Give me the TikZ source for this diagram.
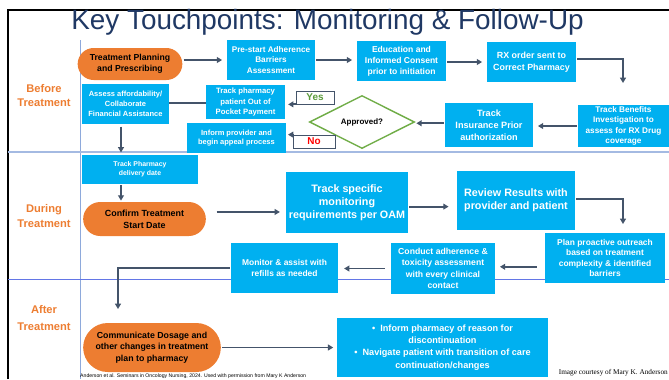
\documentclass[tikz,border=0pt]{standalone}
\usepackage{fontspec}
\setmainfont{Liberation Sans}
\newfontfamily\courtesyfont{Liberation Serif}
\usetikzlibrary{shapes.geometric,shapes.misc,arrows.meta}

\definecolor{boxblue}{HTML}{00B0F0}
\definecolor{pillorange}{HTML}{ED7D31}
\definecolor{arrowgray}{HTML}{44546A}
\definecolor{titlenavy}{HTML}{1F3864}
\definecolor{gridblue}{HTML}{8EA9DB}
\definecolor{okgreen}{HTML}{70AD47}
\definecolor{yesgreen}{HTML}{5B9B3A}

\tikzset{
    bluebox/.style 2 args={fill=boxblue, text=white, align=center, inner sep=1pt,
        font=\bfseries\fontsize{#1}{#2}\selectfont},
    pill/.style 2 args={rounded rectangle, fill=pillorange, text=black, align=center,
        inner sep=1pt, font=\bfseries\fontsize{#1}{#2}\selectfont},
    phase/.style={text=pillorange, align=center, font=\bfseries\fontsize{9.5}{12.5}\selectfont},
    tagbox/.style={draw=arrowgray, line width=0.6pt, fill=white, inner sep=0pt,
        minimum width=1.2cm, minimum height=0.39cm, font=\bfseries\fontsize{8.5}{9}\selectfont},
    arr/.style={draw=arrowgray, line width=1.6pt, -{Triangle[length=4.5pt,width=5pt]},
        shorten <=1pt, shorten >=4pt},
    link/.style={draw=arrowgray, line width=1.6pt}
}

\begin{document}
\begin{tikzpicture}[x=0.03cm, y=-0.03cm]
    \useasboundingbox (0,0) rectangle (669,379);

    % frame and swimlanes
    \draw[black, line width=1.6pt] (8,379) -- (8,10) -- (669,10);
    \draw[gridblue, line width=0.8pt] (80,40) -- (80,379);
    \draw[gridblue!80!white, line width=1.2pt] (8,152) -- (669,152);
    \draw[gridblue!70!blue, line width=0.7pt] (8,279) -- (669,279);

    \node[text=titlenavy, font=\fontsize{23.8}{27}\selectfont] (title) at (327.5,22) {Key Touchpoints: Monitoring \& Follow-Up};

    \node[phase] (before) at (44,95.5) {Before\\Treatment};
    \node[phase] (during) at (44,216) {During\\Treatment};
    \node[phase, font=\bfseries\fontsize{9.5}{14.5}\selectfont] (after) at (44,318) {After\\Treatment};

    % before treatment
    \node[pill={7.4}{9.5}, minimum width=3.21cm, minimum height=0.96cm] (planning) at (130,64) {Treatment Planning\\and Prescribing};
    \node[bluebox={7}{9}, minimum width=2.64cm, minimum height=1.2cm] (prestart) at (271,60) {Pre-start Adherence\\Barriers\\Assessment};
    \node[bluebox={7.3}{9.5}, minimum width=2.67cm, minimum height=1.2cm] (education) at (401.5,61) {Education and\\Informed Consent\\prior to initiation};
    \node[bluebox={7.6}{10}, minimum width=2.67cm, minimum height=1.2cm] (rxorder) at (531.5,62) {RX order sent to\\Correct Pharmacy};
    \node[bluebox={7}{9}, minimum width=2.73cm, minimum height=1.26cm] (benefits) at (623.5,126) {Track Benefits\\Investigation to\\assess for RX Drug\\coverage};
    \node[bluebox={7.8}{10.2}, minimum width=2.64cm, minimum height=1.32cm] (insurance) at (489,125) {Track\\Insurance Prior\\authorization};
    \node[diamond, draw=okgreen, line width=1.2pt, fill=white, inner sep=0pt, aspect=2,
        minimum width=3.15cm, minimum height=1.59cm, font=\bfseries\fontsize{6.8}{8}\selectfont] (approved) at (362,122) {Approved?};
    \node[tagbox, text=yesgreen, minimum width=1.14cm] (yes) at (315,97.5) {Yes};
    \node[tagbox, text=red, minimum width=1.26cm] (no) at (314,141.5) {No};
    \node[bluebox={6.6}{8.8}, minimum width=2.37cm, minimum height=1.02cm] (pocket) at (245.5,102) {Track pharmacy\\patient Out of\\Pocket Payment};
    \node[bluebox={6.4}{8.4}, minimum width=2.97cm, minimum height=0.9cm] (inform) at (236.5,138) {Inform provider and\\begin appeal process};
    \node[bluebox={6.4}{8.6}, minimum width=2.61cm, minimum height=1.2cm] (assess) at (125.5,104) {Assess affordability/\\Collaborate\\Financial Assistance};

    % during treatment
    \node[bluebox={5.9}{8}, minimum width=3.48cm, minimum height=0.87cm] (delivery) at (140,169.5) {Track Pharmacy\\delivery date};
    \node[pill={7.6}{10}, minimum width=3.75cm, minimum height=1.02cm] (confirm) at (144.5,219) {Confirm Treatment\\Start Date};
    \node[bluebox={9.2}{11.2}, minimum width=3.66cm, minimum height=1.83cm] (monitoring) at (347,202.5) {Track specific\\monitoring\\requirements per OAM};
    \node[bluebox={9.2}{11.2}, minimum width=3.54cm, minimum height=1.77cm] (review) at (516,200.5) {Review Results with\\provider and patient};
    \node[bluebox={7.2}{9}, minimum width=3.6cm, minimum height=1.5cm] (outreach) at (605,258) {Plan proactive outreach\\based on treatment\\complexity \& identified\\barriers};
    \node[bluebox={7.4}{9.6}, minimum width=3.12cm, minimum height=1.53cm] (conduct) at (443,268.5) {Conduct adherence \&\\toxicity assessment\\with every clinical\\contact};
    \node[bluebox={7.2}{10}, minimum width=3.21cm, minimum height=1.5cm] (refills) at (284.5,268) {Monitor \& assist with\\refills as needed};

    % after treatment
    \node[pill={7.5}{10}, minimum width=4.2cm, minimum height=1.47cm] (communicate) at (152,347.5) {Communicate Dosage and\\other changes in treatment\\plan to pharmacy};
    \node[bluebox={7.8}{10.4}, minimum width=6.33cm, minimum height=1.77cm] (discontinue) at (442.5,347.5) {• \ Inform pharmacy of reason for\\discontinuation\\• \ Navigate patient with transition of care\\continuation/changes};

    \node[anchor=north west, inner sep=0pt, font=\fontsize{4.4}{5}\selectfont] (cite) at (80,373.5) {Anderson et al. Seminars in Oncology Nursing, 2024. Used with permission from Mary K Anderson};
    \node[anchor=east, inner sep=0pt, font=\courtesyfont\fontsize{6.2}{7}\selectfont] (courtesy) at (668,373) {Image courtesy of Mary K. Anderson};

    \coordinate (dropone) at (623,83);
    \coordinate (droptwo) at (623,224);
    \coordinate (dropthree) at (118,309);
    \coordinate (leftline) at (121,0);

    % connectors
    \draw[arr] (prestart.west -| planning.east) -- (prestart.west);
    \draw[arr] (prestart.east) -- (prestart.east -| education.west);
    \draw[arr] (rxorder.west -| education.east) -- (rxorder.west);
    \draw[arr, shorten >=0pt] ([yshift=2.5pt]rxorder.east) -| (dropone);
    \draw[arr] (benefits.west) -- (benefits.west -| insurance.east);
    \draw[arr, shorten >=1pt] ([yshift=1.5pt]insurance.west) -- ([yshift=1.5pt]insurance.west -| approved.east);
    \draw[arr, shorten <=0pt, shorten >=2.5pt] (yes.south west) -- (yes.south west -| pocket.east);
    \draw[arr, shorten <=0pt, shorten >=1.5pt] (no.north west) -- (no.north west -| inform.east);
    \draw[link] ([yshift=-1pt]pocket.west) -- ([yshift=-1pt]pocket.west -| assess.east);
    \draw[arr, shorten <=2pt, shorten >=2pt] (assess.south -| leftline) -- (delivery.north -| leftline);
    \draw[arr, shorten >=1pt] (delivery.south -| leftline) -- (confirm.north -| leftline);
    \draw[arr, shorten <=9pt, shorten >=5pt] ([yshift=6pt]confirm.east) -- ([yshift=6pt]confirm.east -| monitoring.west);
    \draw[arr, shorten >=7pt] ([yshift=-3.5pt]monitoring.east) -- ([yshift=-3.5pt]monitoring.east -| review.west);
    \draw[arr, shorten >=0pt] ([yshift=1pt]review.east) -| (droptwo);
    \draw[arr, shorten <=7pt] ([yshift=-7.5pt]outreach.west) -- ([yshift=-7.5pt]outreach.west -| conduct.east);
    \draw[arr, shorten <=5pt, shorten >=5pt] (conduct.west) -- (conduct.west -| refills.east);
    \draw[arr, shorten >=0pt] (refills.west) -| (dropthree);
    \draw[arr, shorten >=3pt] (communicate.east) -- (discontinue.west);
\end{tikzpicture}
\end{document}
